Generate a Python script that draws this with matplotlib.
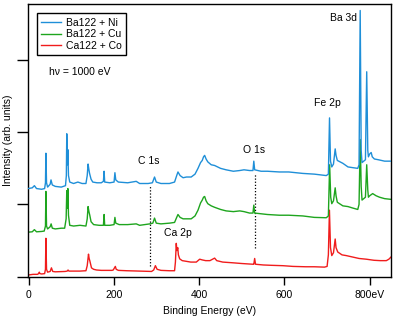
import numpy as np
import matplotlib.pyplot as plt

plt.rcParams['font.family'] = ['Liberation Sans', 'DejaVu Sans']

# Ba122 + Ni  (binding energy in eV, intensity arb. units)
ni_e = [-2, 8, 13, 18, 30, 37, 39, 40, 41.5, 44, 50, 52, 55, 62, 76, 86, 88, 89, 90.5, 91.5,
        93, 96, 105, 115, 125, 134, 137, 139, 141, 142.5, 146, 150, 160, 170, 175, 176.6, 178,
        190, 200, 202, 204, 210, 232, 252, 260, 280, 290, 295, 299, 310, 330, 342, 347, 350,
        355, 362, 370, 381, 390, 397, 403, 407, 410, 412.6, 416, 420, 428, 436, 450, 463, 480,
        495, 505, 518, 526, 528, 530, 545, 560, 588, 610, 643, 670, 698, 703, 705.7, 708, 711,
        715, 719, 721, 724, 737, 749, 760, 772, 775, 777.7, 780, 782, 786, 790, 793, 795.5,
        797, 800, 803.5, 806, 811, 820, 835, 850]
ni_i = [1.22, 1.23, 1.26, 1.22, 1.21, 1.22, 1.30, 1.71, 1.30, 1.24, 1.28, 1.34, 1.27, 1.25, 1.24,
        1.26, 1.40, 1.98, 1.55, 1.76, 1.40, 1.31, 1.29, 1.31, 1.29, 1.29, 1.40, 1.56, 1.48, 1.43,
        1.35, 1.31, 1.30, 1.30, 1.32, 1.46, 1.31, 1.30, 1.31, 1.44, 1.34, 1.31, 1.30, 1.32, 1.29,
        1.29, 1.30, 1.38, 1.31, 1.29, 1.29, 1.31, 1.40, 1.45, 1.40, 1.37, 1.38, 1.38, 1.42, 1.50,
        1.58, 1.61, 1.66, 1.68, 1.63, 1.59, 1.55, 1.54, 1.50, 1.48, 1.46, 1.47, 1.48, 1.47, 1.47,
        1.60, 1.48, 1.46, 1.46, 1.45, 1.45, 1.43, 1.42, 1.40, 1.42, 2.20, 1.60, 1.52, 1.56, 1.77,
        1.68, 1.61, 1.57, 1.52, 1.51, 1.50, 1.55, 3.69, 1.75, 1.58, 1.60, 1.62, 2.84, 1.75, 1.66,
        1.70, 1.72, 1.66, 1.63, 1.62, 1.60, 1.60]

# Ba122 + Cu
cu_e = [-2, 8, 13, 18, 30, 36, 39, 40, 41.5, 44, 50, 52.3, 55, 62, 76, 84, 87.5, 89, 90.5, 91.5,
        93, 96, 105, 120, 134, 137, 139, 141, 143, 146, 152, 165, 175, 176.6, 178, 190, 200, 202,
        204, 212, 232, 252, 260, 284, 291, 295, 299, 310, 330, 342, 347, 350, 355, 362, 370, 381,
        390, 397, 403, 407, 410, 412.6, 416, 420, 428, 436, 450, 463, 480, 495, 505, 518, 526,
        528, 530, 545, 560, 588, 610, 643, 670, 698, 703, 706, 708.5, 711, 715, 719, 721, 724,
        737, 749, 760, 772, 775, 777.7, 780, 782, 786, 790, 793, 795.5, 797, 800, 807, 815, 823,
        835, 850]
cu_i = [0.615, 0.62, 0.65, 0.62, 0.625, 0.63, 0.70, 1.18, 0.70, 0.66, 0.69, 0.73, 0.67, 0.66,
        0.67, 0.67, 0.80, 1.19, 0.95, 1.22, 0.85, 0.71, 0.70, 0.71, 0.70, 0.80, 0.97, 0.90, 0.85,
        0.76, 0.72, 0.71, 0.71, 0.86, 0.71, 0.71, 0.72, 0.82, 0.74, 0.72, 0.72, 0.73, 0.71, 0.73,
        0.74, 0.81, 0.74, 0.73, 0.74, 0.75, 0.82, 0.86, 0.82, 0.80, 0.80, 0.80, 0.84, 0.92, 1.02,
        1.06, 1.10, 1.11, 1.05, 1.01, 0.98, 0.96, 0.93, 0.91, 0.90, 0.91, 0.90, 0.88, 0.88, 0.99,
        0.88, 0.87, 0.86, 0.85, 0.85, 0.84, 0.82, 0.815, 0.84, 1.55, 1.10, 1.01, 1.05, 1.23, 1.12,
        1.03, 0.98, 0.97, 0.95, 0.93, 1.00, 1.90, 1.25, 1.06, 1.08, 1.10, 1.55, 1.20, 1.10, 1.12,
        1.15, 1.12, 1.10, 1.08, 1.07]

# Ca122 + Co
co_e = [-2, 10, 20, 23, 24.5, 26, 30, 37, 39, 40, 41.5, 44, 50, 53, 56, 62, 85, 90, 92, 94, 120,
        134, 137, 140, 141.5, 143, 147, 152, 159, 170, 195, 198, 203, 205, 210, 230, 260, 288,
        293, 297, 301, 310, 330, 342, 344, 346, 347.5, 349.5, 351, 354, 360, 370, 380, 393, 401,
        407, 415, 425, 436, 441, 455, 479, 500, 526, 528, 530, 532, 550, 570, 596, 620, 650, 670,
        694, 700, 703, 705.5, 708, 711, 715, 719, 721, 725, 735, 745, 760, 775, 792, 810, 825,
        839, 845, 850]
co_i = [0.02, 0.03, 0.03, 0.04, 0.06, 0.04, 0.035, 0.04, 0.10, 0.53, 0.10, 0.06, 0.07, 0.12, 0.07,
        0.065, 0.07, 0.075, 0.09, 0.075, 0.075, 0.08, 0.15, 0.31, 0.25, 0.22, 0.12, 0.10, 0.09,
        0.085, 0.085, 0.09, 0.14, 0.10, 0.085, 0.08, 0.075, 0.07, 0.09, 0.15, 0.10, 0.085, 0.08,
        0.08, 0.20, 0.46, 0.36, 0.40, 0.30, 0.245, 0.22, 0.21, 0.20, 0.20, 0.24, 0.23, 0.22, 0.22,
        0.255, 0.22, 0.20, 0.19, 0.18, 0.17, 0.17, 0.25, 0.17, 0.16, 0.155, 0.15, 0.14, 0.135,
        0.135, 0.13, 0.14, 0.30, 0.92, 0.40, 0.29, 0.33, 0.52, 0.40, 0.34, 0.30, 0.29, 0.27, 0.25,
        0.24, 0.225, 0.22, 0.22, 0.24, 0.27]

labels = ['Ba122 + Ni', 'Ba122 + Cu', 'Ca122 + Co']
colors = ['#1f8fd8', '#1ea51e', '#f01c1c']

xticks = [0, 200, 400, 600, 800]
xticklabels = ['0', '200', '400', '600', '800eV']

fig = plt.figure(figsize=(3.95, 3.17), dpi=100)
ax = fig.add_axes([28/395, 1 - 276.5/317, 363/395, 272.5/317])

ax.plot(ni_e, ni_i, color=colors[0], lw=1, label=labels[0], zorder=3)
ax.plot(cu_e, cu_i, color=colors[1], lw=1, label=labels[1], zorder=2)
ax.plot(co_e, co_i, color=colors[2], lw=1, label=labels[2], zorder=1)

# dotted markers for C 1s and O 1s
ax.plot([285, 285], [0.15, 1.26], color='k', ls=(0, (1, 1.5)), lw=0.9, zorder=0)
ax.plot([530, 530], [0.40, 1.42], color='k', ls=(0, (1, 1.5)), lw=0.9, zorder=0)

fs = 7.5
ax.text(739, 3.59, 'Ba 3d', ha='center', va='center', fontsize=fs)
ax.text(701, 2.40, 'Fe 2p', ha='center', va='center', fontsize=fs)
ax.text(529, 1.75, 'O 1s', ha='center', va='center', fontsize=fs)
ax.text(281, 1.60, 'C 1s', ha='center', va='center', fontsize=fs)
ax.text(350, 0.60, 'Ca 2p', ha='center', va='center', fontsize=fs)
ax.text(48, 2.84, 'hν = 1000 eV', ha='left', va='center', fontsize=fs)

ax.set_xlim(-2, 850)
ax.set_ylim(0, 3.78)
ax.set_xticks(xticks)
ax.set_xticklabels(xticklabels, fontsize=fs)
ax.set_yticks([0, 1, 2, 3])
ax.set_yticklabels([])
ax.tick_params(axis='x', direction='out', length=6, width=1, pad=4)
ax.tick_params(axis='y', direction='out', length=8, width=1)
for s in ax.spines.values():
    s.set_linewidth(1)

ax.set_xlabel('Binding Energy (eV)', fontsize=fs, labelpad=4)
ax.set_ylabel('Intensity (arb. units)', fontsize=fs)
ax.yaxis.set_label_coords(-0.042, 0.5)

leg = ax.legend(loc='upper left', bbox_to_anchor=(0.024, 0.966), borderaxespad=0,
                fontsize=fs, handlelength=1.9, handletextpad=0.5, labelspacing=0.15,
                borderpad=0.42, fancybox=False, framealpha=1, edgecolor='k')
leg.get_frame().set_linewidth(1)

plt.savefig('out.png', dpi=100)
